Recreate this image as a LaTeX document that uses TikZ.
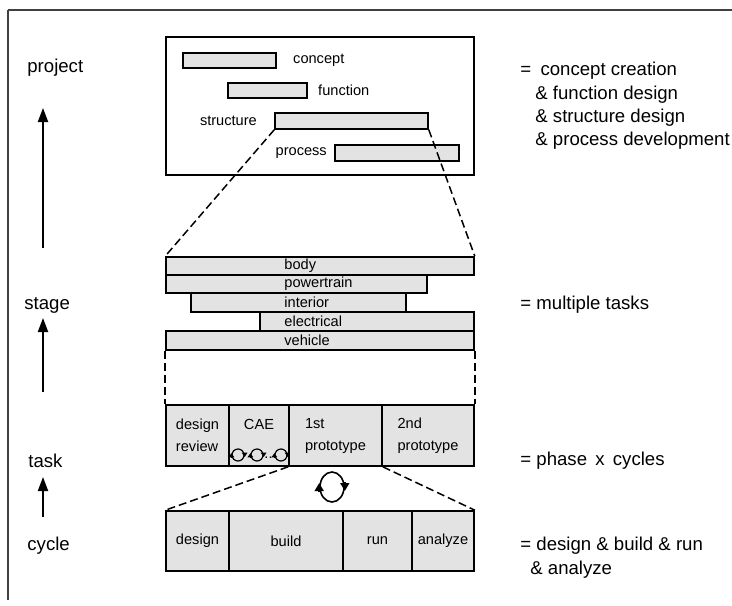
\documentclass[tikz,border=0pt]{standalone}
\usepackage{fontspec}
\setmainfont{Liberation Sans}
\usetikzlibrary{positioning,fit,arrows.meta,shapes.geometric}

\begin{document}
\begin{tikzpicture}
  [x=0.5pt, y=-0.5pt,
   every node/.style={font=\fontsize{7.3}{11}\selectfont, inner sep=0pt},
   bar/.style={draw, fill=black!11, line width=0.8pt},
   cell/.style={bar},
   celltext/.style={align=left},
   level/.style={font=\fontsize{9.3}{11}\selectfont, anchor=west},
   note/.style={font=\fontsize{9.3}{11.6}\selectfont, align=left},
   zoomline/.style={line width=0.75pt, dash pattern=on 4pt off 2pt},
   lvlarrow/.style={line width=1pt, -{Triangle[length=7pt,width=5pt]}},
   turn/.style={line width=0.8pt, -{Triangle[length=4pt,width=4.5pt]}},
   loopmark/.style={draw, circle, line width=0.6pt, minimum size=6pt},
   smallturn/.style={line width=0.5pt, -{Triangle[length=2.2pt,width=2.8pt]}}]
  \useasboundingbox (0,0) rectangle (732,605);
  % edge of the scanned page
  \draw[line width=1pt, black!75] (8,10) -- (732,10);
  \draw[line width=1pt, black!75] (8,10) -- (8,600);

  % project level
  \node[draw, line width=0.9pt, fit={(166,37) (474,175)}] (project-box) {};
  \node[bar, fit={(183,53) (276,68)}] (concept) {};
  \node[right=8pt of concept] (concept-l) {concept};
  \node[bar, fit={(228,83) (307,98)}] (function) {};
  \node[right=5pt of function] (function-l) {function};
  \node[bar, fit={(275,113) (428,129)}] (structure) {};
  \node[left=8.5pt of structure] (structure-l) {structure};
  \node[bar, fit={(335,145) (459,161)}] (process) {};
  \node[left=3.5pt of process] (process-l) {process};

  % stage level
  \coordinate (lx) at (284,0);
  \node[bar, fit={(166,257) (474,275)}] (body) {};
  \node[bar, fit={(166,275) (427,293)}] (powertrain) {};
  \node[bar, fit={(191,293) (406,312)}] (interior) {};
  \node[bar, fit={(260,312) (474,331)}] (electrical) {};
  \node[bar, fit={(166,331) (474,350)}] (vehicle) {};
  \node[anchor=west] (body-l) at (lx |- body) {body};
  \node[anchor=west] (powertrain-l) at (lx |- powertrain) {powertrain};
  \node[anchor=west] (interior-l) at (lx |- interior) {interior};
  \node[anchor=west] (electrical-l) at (lx |- electrical) {electrical};
  \node[anchor=west] (vehicle-l) at (lx |- vehicle) {vehicle};

  % task level
  \node[cell, fit={(166,405) (229,466)}] (review) {};
  \node[celltext] (review-l) at (review) {design\\review};
  \node[cell, fit={(229,405) (289,466)}] (cae) {};
  \node (cae-l) at (259,424) {CAE};
  \node[loopmark] (cae-c1) at (238,455) {};
  \node[loopmark] (cae-c2) at (257,455) {};
  \node[loopmark] (cae-c3) at (281,455) {};
  \node (cae-dots) at (268.5,458) {..};
  \draw[smallturn] ([yshift=-1.2pt]cae-c1.west) -- ([yshift=1pt]cae-c1.west);
  \draw[smallturn] ([yshift=1.2pt]cae-c1.east) -- ([yshift=-1pt]cae-c1.east);
  \draw[smallturn] ([yshift=-1.2pt]cae-c2.west) -- ([yshift=1pt]cae-c2.west);
  \draw[smallturn] ([yshift=1.2pt]cae-c2.east) -- ([yshift=-1pt]cae-c2.east);
  \draw[smallturn] ([yshift=-1.2pt]cae-c3.west) -- ([yshift=1pt]cae-c3.west);
  \draw[smallturn] ([yshift=1.2pt]cae-c3.east) -- ([yshift=-1pt]cae-c3.east);
  \node[cell, fit={(289,405) (382,466)}] (proto1) {};
  \node[celltext] (proto1-l) at (proto1) {1st\\prototype};
  \node[cell, fit={(382,405) (474,466)}] (proto2) {};
  \node[celltext] (proto2-l) at (proto2) {2nd\\prototype};

  % cycle level
  \node[cell, fit={(166,511) (229,571)}] (design) {};
  \node[cell, fit={(229,511) (343,571)}] (build) {};
  \node[cell, fit={(343,511) (412,571)}] (run) {};
  \node[cell, fit={(412,511) (474,571)}] (analyze) {};
  \node (design-l) at (design) {design};
  \node (build-l) at (build) {build};
  \node (run-l) at (run) {run};
  \node (analyze-l) at (analyze) {analyze};
  \node[draw, ellipse, line width=0.8pt, minimum width=12pt, minimum height=15pt] (loop) at (332,487) {};
  \draw[turn] ([yshift=-2.5pt]loop.west) -- ([yshift=2pt]loop.west);
  \draw[turn] ([yshift=2.5pt]loop.east) -- ([yshift=-2pt]loop.east);

  % zoom lines
  \draw[zoomline] (structure.south west) -- (body.north west);
  \draw[zoomline] (structure.south east) -- (body.north east);
  \draw[zoomline] (vehicle.south west) -- (review.north west);
  \draw[zoomline] (vehicle.south east) -- (proto2.north east);
  \draw[zoomline] (proto1.south west) -- (design.north west);
  \draw[zoomline] (proto1.south east) -- (analyze.north east);

  % levels on the left
  \node[level] (project) at (27,68) {project};
  \node[level] (stage) at (24,305) {stage};
  \node[level] (task) at (28,461) {task};
  \node[level] (cycle) at (27,546) {cycle};
  \coordinate (stage-tail) at (43,248);
  \coordinate (project-tip) at (43,108);
  \coordinate (task-tail) at (43,392);
  \coordinate (stage-tip) at (43,318);
  \coordinate (cycle-tail) at (43,517);
  \coordinate (task-tip) at (43,477);
  \draw[lvlarrow] (stage-tail) -- (project-tip);
  \draw[lvlarrow] (task-tail) -- (stage-tip);
  \draw[lvlarrow] (cycle-tail) -- (task-tip);

  % notes on the right
  \node[note, anchor=north west] (project-note) at (520,62)
    {=\enspace concept creation\\\hspace{7.5pt}\& function design\\\hspace{7.5pt}\& structure design\\\hspace{7.5pt}\& process development};
  \node[note, anchor=west] (stage-note) at (520,305) {= multiple tasks};
  \node[note, anchor=west] (task-note) at (520,461) {= phase \,x\, cycles};
  \node[note, anchor=north west] (cycle-note) at (520,537)
    {= design \& build \& run\\\hspace{5pt}\& analyze};
\end{tikzpicture}
\end{document}
